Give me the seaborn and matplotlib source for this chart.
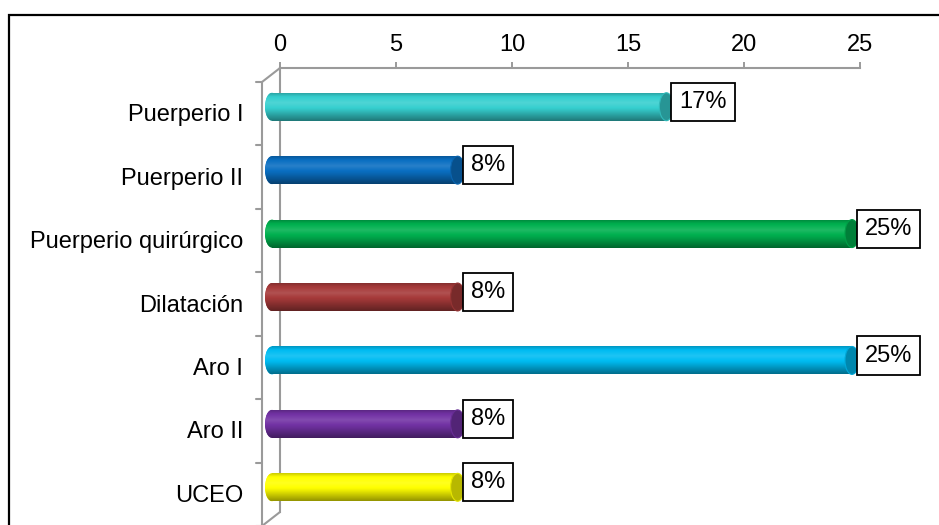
import numpy as np
import pandas as pd
import matplotlib
matplotlib.use("Agg")
import matplotlib.pyplot as plt
import matplotlib.colors as mcolors
from matplotlib.patches import Ellipse, Rectangle
from matplotlib.lines import Line2D
from matplotlib.transforms import ScaledTranslation
import seaborn as sns

# Data
categories = ["Puerperio I", "Puerperio II", "Puerperio quirúrgico", "Dilatación",
              "Aro I", "Aro II", "UCEO"]
values = [17, 8, 25, 8, 25, 8, 8]
bar_colors = ["#36CFCF", "#0A6FC2", "#00B04F", "#A63A3A", "#00BCF2", "#7232A4", "#FFFF00"]
x_ticks = [0, 5, 10, 15, 20, 25]

sns.set_theme(style="white")
plt.rcParams["font.family"] = ["Liberation Sans", "DejaVu Sans"]
FS = 17

W, H, DPI = 939, 525, 100
fig = plt.figure(figsize=(W / DPI, H / DPI), dpi=DPI)
ax_left, ax_right, ax_top, ax_bottom = 280, 860, 68, 512
ax = fig.add_axes([ax_left / W, 1 - ax_bottom / H,
                   (ax_right - ax_left) / W, (ax_bottom - ax_top) / H])

df = pd.DataFrame({"cat": categories, "val": values})
bar_w = 0.44
sns.barplot(data=df, x="val", y="cat", hue="cat", palette=bar_colors, orient="h",
            width=bar_w, legend=False, ax=ax, saturation=1, zorder=3)

ax.set_xlim(0, 25)
ax.set_ylim(len(categories) - 0.5, -0.5)

gray = "#9A9A9A"
# depth offsets (pixels) for bars (mid depth) and back wall
bar_off = ScaledTranslation(-8 / DPI, -7 / DPI, fig.dpi_scale_trans)
wall_off = ScaledTranslation(-18 / DPI, -14 / DPI, fig.dpi_scale_trans)
bar_trans = ax.transData + bar_off

px_per_unit = (ax_right - ax_left) / 25.0
cap_w = 14 / px_per_unit


def shade(color, f):
    c = np.array(mcolors.to_rgb(color))
    if f >= 1:
        return c + (1 - c) * min(f - 1, 1)
    return c * f


prof_t = np.array([0.0, 0.12, 0.35, 0.6, 0.85, 1.0])
prof_f = np.array([0.80, 0.98, 1.12, 0.95, 0.72, 0.58])
tt = np.linspace(0, 1, 64)
ff = np.interp(tt, prof_t, prof_f)

for i, (patch, col, v) in enumerate(zip(ax.patches, bar_colors, values)):
    patch.set_transform(bar_trans)
    patch.set_edgecolor("none")
    patch.set_clip_on(False)
    grad = np.array([shade(col, f) for f in ff])[:, None, :]
    y0, y1 = i - bar_w / 2, i + bar_w / 2
    # cylinder body
    im = ax.imshow(grad, extent=[0, v, y1, y0], aspect="auto", interpolation="bilinear",
                   transform=bar_trans, zorder=3.1)
    im.set_clip_path(patch)
    im.set_clip_box(fig.bbox)
    # rounded back end
    back = Ellipse((0, i), cap_w, bar_w, transform=bar_trans, facecolor=col,
                   edgecolor="none", zorder=3.0, clip_on=False)
    ax.add_patch(back)
    im2 = ax.imshow(grad, extent=[-cap_w, 0.01, y1, y0], aspect="auto",
                    interpolation="bilinear", transform=bar_trans, zorder=3.05)
    im2.set_clip_path(back)
    im2.set_clip_box(fig.bbox)
    # front end cap
    ax.add_patch(Ellipse((v, i), cap_w, bar_w, transform=bar_trans,
                         facecolor=shade(col, 0.72), edgecolor=shade(col, 0.9),
                         linewidth=0.8, zorder=3.2, clip_on=False))
    # value label
    ax.annotate(f"{v}%", xy=(v, i), xytext=(3.6, -1.5), textcoords="offset points",
                ha="left", va="center", fontsize=FS, color="black", zorder=5,
                bbox=dict(boxstyle="square,pad=0.34", facecolor="white",
                          edgecolor="black", linewidth=1.3))

ax.set_ylim(len(categories) - 0.5, -0.5)
ax.set_xlim(0, 25)

# axes styling: value axis on top
ax.xaxis.tick_top()
ax.xaxis.set_label_position("top")
ax.set_xticks(x_ticks)
ax.set_xticklabels([str(t) for t in x_ticks])
ax.set_xlabel("")
ax.set_ylabel("")
ax.tick_params(axis="x", top=True, bottom=False, direction="out", length=4.3,
               width=1.4, color=gray, pad=4, labelsize=FS, labelcolor="black")
ax.tick_params(axis="y", left=False, length=0, pad=26.5, labelsize=FS, labelcolor="black")
# category labels sit on the back wall, a little lower than the front frame
for lab in ax.get_yticklabels():
    lab.set_transform(lab.get_transform() + ScaledTranslation(0, -13 / DPI, fig.dpi_scale_trans))
for s in ["right", "bottom"]:
    ax.spines[s].set_visible(False)
for s in ["top", "left"]:
    ax.spines[s].set_color(gray)
    ax.spines[s].set_linewidth(1.5)
    ax.spines[s].set_zorder(2)
ax.grid(False)
ax.set_facecolor("none")

# back wall of the 3D frame
wall_trans = ax.transAxes + wall_off
ax.add_line(Line2D([0, 0], [1, -0.05], transform=wall_trans, color=gray, lw=1.5,
                   clip_on=False, zorder=1))
# diagonals connecting front and back
top_front = ax.transAxes.transform((0, 1))
bot_front = ax.transAxes.transform((0, 0))
top_back = wall_trans.transform((0, 1))
bot_back = wall_trans.transform((0, 0))
for a, b in [(top_front, top_back), (bot_front, bot_back)]:
    fig.add_artist(Line2D([a[0], b[0]], [a[1], b[1]], transform=None, color=gray, lw=1.5))
# category separators on the back wall
tick_len = 6 / (ax_right - ax_left)
n = len(categories)
for k in range(n + 1):
    yy = 1 - k / n
    ax.add_line(Line2D([-tick_len, 0], [yy, yy], transform=wall_trans, color=gray,
                       lw=1.5, clip_on=False, zorder=1))

# outer frame
fig.add_artist(Rectangle((9 / W, -0.1), 1.2, 1 - 15 / H + 0.1, transform=fig.transFigure,
                         fill=False, edgecolor="black", linewidth=1.6))

fig.savefig("out.png", dpi=DPI, facecolor="white")
